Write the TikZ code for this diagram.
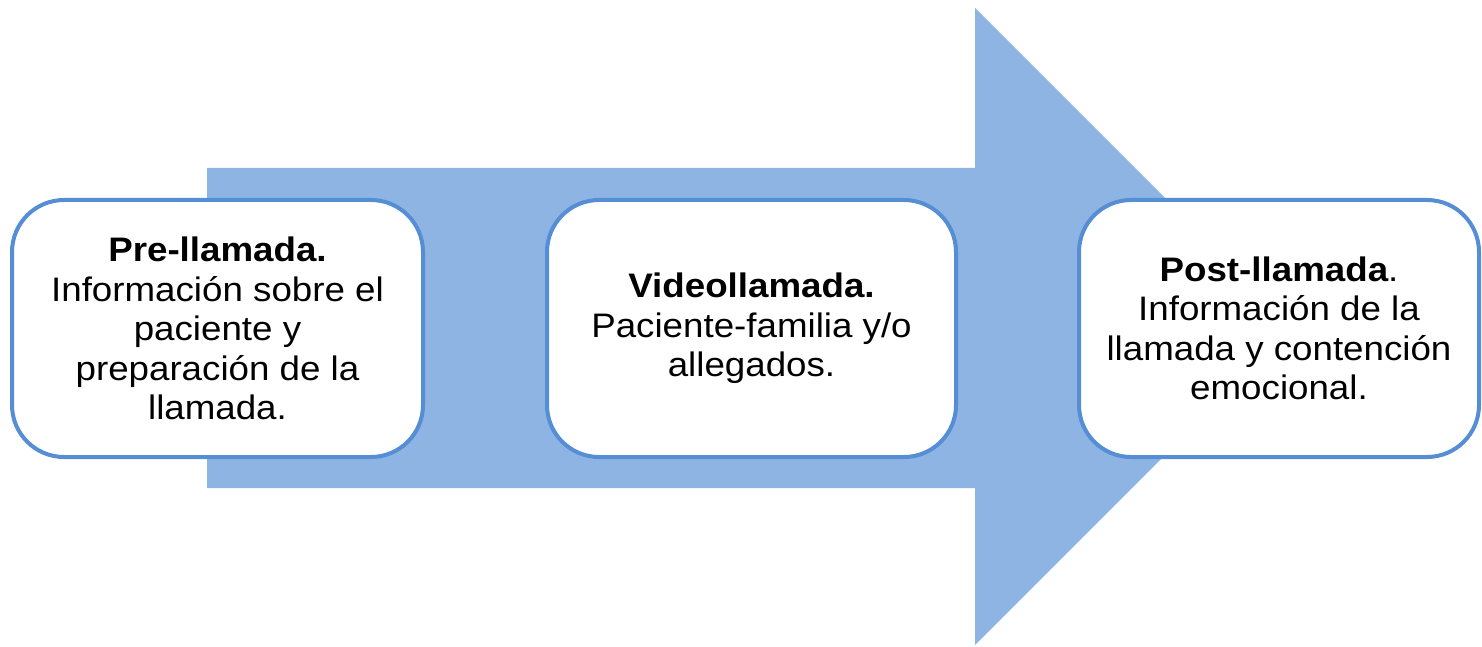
\documentclass[tikz,border=0pt]{standalone}
\usepackage{fontspec}
\setmainfont{Liberation Sans}[FakeStretch=1.08]
\definecolor{arrowfill}{HTML}{8EB4E3}
\definecolor{boxline}{HTML}{558ED5}
\begin{document}
\begin{tikzpicture}[x=1pt,y=1pt,
  stage/.style={draw=boxline, line width=4pt, fill=white, rounded corners=52pt,
    minimum height=257pt, align=center, inner sep=0pt,
    font=\fontsize{34pt}{39.5pt}\selectfont}]
\useasboundingbox (0,0) rectangle (1482,646);
\fill[arrowfill] (207,478) -- (975,478) -- (975,638) -- (1293.5,319.5) -- (975,1) -- (975,158) -- (207,158) -- cycle;
\node[stage, minimum width=411pt] (pre) at (217.5,317.5)
  {\textbf{Pre-llamada.}\\Información sobre el\\paciente y\\preparación de la\\llamada.};
\node[stage, minimum width=409pt] (video) at (751.5,317.5)
  {\textbf{Videollamada.}\\Paciente-familia y/o\\allegados.};
\node[stage, minimum width=400pt] (post) at (1279,317.5)
  {\textbf{Post-llamada}.\\Información de la\\llamada y contención\\emocional.};
\end{tikzpicture}
\end{document}
